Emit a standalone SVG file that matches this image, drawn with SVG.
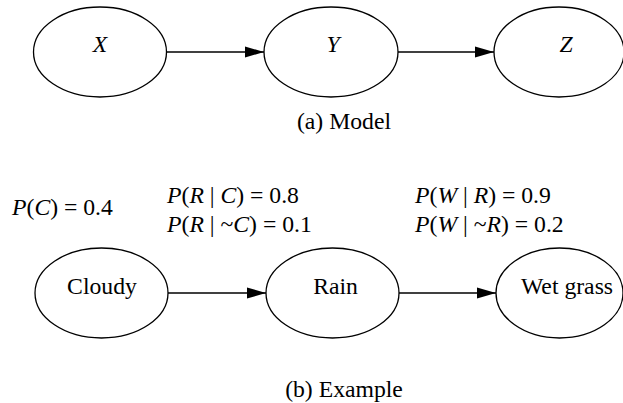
<svg xmlns="http://www.w3.org/2000/svg" width="623" height="403" viewBox="0 0 623 403">
<defs>
<style>
.node ellipse{fill:#fff;stroke:#000;stroke-width:1.3}
.lbl{text-anchor:middle}
.it{font-style:italic}
.edge line{stroke:#000;stroke-width:1.3}
</style>
<marker id="ah" markerUnits="userSpaceOnUse" markerWidth="20" markerHeight="12" refX="19" refY="6" orient="auto">
<path d="M0,0.5 L19,6 L0,11.5 Z" fill="#000"/>
</marker>
</defs>
<rect width="623" height="403" fill="#fff"/>
<g id="edges" class="edge">
<line x1="166.5" y1="52" x2="264" y2="52" marker-end="url(#ah)"/>
<line x1="398" y1="52" x2="494" y2="52" marker-end="url(#ah)"/>
<line x1="168" y1="293" x2="266" y2="293" marker-end="url(#ah)"/>
<line x1="399" y1="293" x2="496" y2="293" marker-end="url(#ah)"/>
</g>
<g font-family="Liberation Serif, Times New Roman, DejaVu Serif, serif" font-size="23.7" fill="#000">
<g id="X" class="node"><ellipse cx="100" cy="52" rx="66.5" ry="45"/><text class="lbl it" x="100" y="52">X</text></g>
<g id="Y" class="node"><ellipse cx="331" cy="52" rx="67" ry="45"/><text class="lbl it" x="333" y="52">Y</text></g>
<g id="Z" class="node"><ellipse cx="559" cy="52" rx="65" ry="45"/><text class="lbl it" x="566" y="52">Z</text></g>
<text class="lbl" x="344" y="129">(a) Model</text>
<g id="Cloudy" class="node"><ellipse cx="101.5" cy="293" rx="66.5" ry="45"/><text class="lbl" x="102" y="294">Cloudy</text></g>
<g id="Rain" class="node"><ellipse cx="332.5" cy="293" rx="66.5" ry="45"/><text class="lbl" x="335.5" y="294">Rain</text></g>
<g id="WetGrass" class="node"><ellipse cx="559.5" cy="293" rx="63.5" ry="45"/><text class="lbl" x="567" y="294">Wet grass</text></g>
<text x="12" y="215"><tspan class="it">P</tspan>(<tspan class="it">C</tspan>) = 0.4</text>
<text x="167" y="203"><tspan class="it">P</tspan>(<tspan class="it">R</tspan> | <tspan class="it">C</tspan>) = 0.8</text>
<text x="167" y="232"><tspan class="it">P</tspan>(<tspan class="it">R</tspan> | ~<tspan class="it">C</tspan>) = 0.1</text>
<text x="415" y="203"><tspan class="it">P</tspan>(<tspan class="it">W</tspan> | <tspan class="it">R</tspan>) = 0.9</text>
<text x="415" y="232"><tspan class="it">P</tspan>(<tspan class="it">W</tspan> | ~<tspan class="it">R</tspan>) = 0.2</text>
<text class="lbl" x="344" y="397">(b) Example</text>
</g>
</svg>
